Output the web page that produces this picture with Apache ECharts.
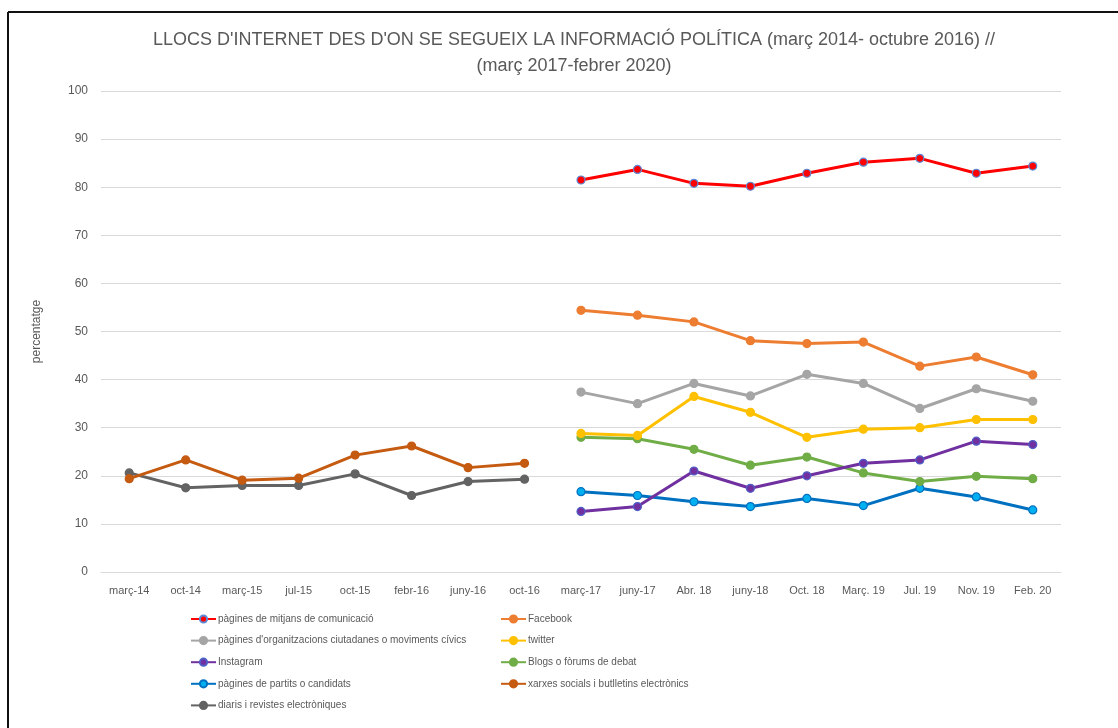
<!DOCTYPE html>
<html><head><meta charset="utf-8">
<script src="https://cdn.jsdelivr.net/npm/echarts@6/dist/echarts.min.js"></script>
<style>html,body{margin:0;padding:0;background:#fff}#c{width:1118px;height:728px}</style>
</head><body><div id="c"></div>
<script>
var categories = ['març-14','oct-14','març-15','jul-15','oct-15','febr-16','juny-16','oct-16','març-17','juny-17','Abr. 18','juny-18','Oct. 18','Març. 19','Jul. 19','Nov. 19','Feb. 20'];
var yTicks = [0,10,20,30,40,50,60,70,80,90,100];
var N = null;
var mitjans   = [N,N,N,N,N,N,N,N,81.5,83.7,80.8,80.2,82.9,85.2,86.0,82.9,84.4];
var facebook  = [N,N,N,N,N,N,N,N,54.4,53.4,52.0,48.1,47.5,47.8,42.8,44.7,41.0];
var organitz  = [N,N,N,N,N,N,N,N,37.4,35.0,39.2,36.6,41.1,39.2,34.0,38.1,35.5];
var twitter   = [N,N,N,N,N,N,N,N,28.8,28.4,36.5,33.2,28.0,29.7,30.0,31.7,31.7];
var instagram = [N,N,N,N,N,N,N,N,12.6,13.6,21.0,17.4,20.0,22.6,23.3,27.2,26.5];
var blogs     = [N,N,N,N,N,N,N,N,28.0,27.7,25.5,22.2,23.9,20.6,18.8,19.9,19.4];
var partits   = [N,N,N,N,N,N,N,N,16.7,15.9,14.6,13.6,15.3,13.8,17.4,15.6,12.9];
var xarxes    = [19.4,23.3,19.1,19.5,24.3,26.2,21.7,22.6,N,N,N,N,N,N,N,N,N];
var diaris    = [20.6,17.5,18.0,18.0,20.4,15.9,18.8,19.3,N,N,N,N,N,N,N,N,N];

var names = ['pàgines de mitjans de comunicació','Facebook',"pàgines d'organitzacions ciutadanes o moviments cívics",'twitter','Instagram','Blogs o fòrums de debat','pàgines de partits o candidats','xarxes socials i butlletins electrònics','diaris i revistes electròniques'];
var datas = [mitjans,facebook,organitz,twitter,instagram,blogs,partits,xarxes,diaris];
var lineColors = ['#FF0000','#ED7D31','#A5A5A5','#FFC000','#7030A0','#70AD47','#0070C0','#C55A11','#636363'];
var markFill   = ['#FF0000','#ED7D31','#A5A5A5','#FFC000','#7030A0','#70AD47','#00B0F0','#C55A11','#636363'];
var markBorder = ['#5B8BD6','#ED7D31','#A5A5A5','#FFC000','#4F5FC8','#70AD47','#0070C0','#C55A11','#636363'];

var FONT = 'Liberation Sans';
var series = names.map(function(n,i){
  return {
    name:n, type:'line', data:datas[i], symbol:'circle', symbolSize:8,
    lineStyle:{color:lineColors[i], width:3},
    itemStyle:{color:markFill[i], borderColor:markBorder[i], borderWidth:1.2},
    emphasis:{disabled:true}, z: 10-i
  };
});
var legendCommon = {orient:'vertical', top:609, itemWidth:25, itemHeight:9, itemGap:11.6,
  textStyle:{color:'#595959', fontSize:10, fontFamily:FONT, padding:[0,0,0,-3]}};
var chart = echarts.init(document.getElementById('c'));
chart.setOption({
  animation:false,
  title:{text:"LLOCS D'INTERNET DES D'ON SE SEGUEIX LA INFORMACIÓ POLÍTICA (març 2014- octubre 2016) //\n(març 2017-febrer 2020)",
    left:569, top:22, textAlign:'center',
    textStyle:{color:'#595959', fontSize:18, fontWeight:'normal', fontFamily:FONT, lineHeight:26}},
  grid:{left:101, right:57, top:91, bottom:156},
  xAxis:{type:'category', data:categories, boundaryGap:true,
    axisLine:{lineStyle:{color:'#D9D9D9'}}, axisTick:{show:false},
    axisLabel:{color:'#595959', fontSize:11, fontFamily:FONT, margin:13, interval:0}},
  yAxis:{type:'value', min:0, max:100, interval:10,
    name:'percentatge', nameLocation:'middle', nameGap:58, nameRotate:90,
    nameTextStyle:{color:'#595959', fontSize:12, fontFamily:FONT},
    axisLine:{show:false}, axisTick:{show:false},
    axisLabel:{color:'#595959', fontSize:12, fontFamily:FONT, margin:13},
    splitLine:{lineStyle:{color:'#D9D9D9', width:1}}},
  legend:[
    Object.assign({left:185, data:[names[0],names[2],names[4],names[6],names[8]]}, legendCommon),
    Object.assign({left:495, data:[names[1],names[3],names[5],names[7]]}, legendCommon)
  ],
  graphic:[
    {type:'line', shape:{x1:8, y1:12, x2:1118, y2:12}, style:{stroke:'#111', lineWidth:2}},
    {type:'line', shape:{x1:8, y1:12, x2:8, y2:728}, style:{stroke:'#111', lineWidth:2}}
  ],
  series:series
});
</script></body></html>
